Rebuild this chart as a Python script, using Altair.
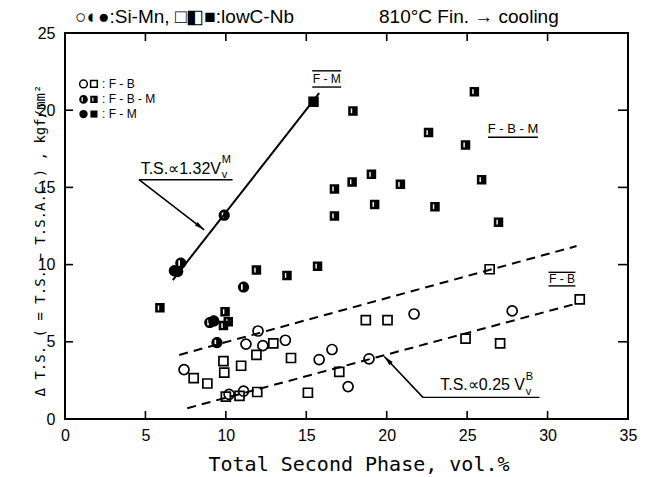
import math
import altair as alt
import pandas as pd

# ---------------- data ----------------
# F-B (open symbols)
fb_circle_x = [7.4, 12.0, 11.25, 12.3, 13.7, 15.8, 10.2, 11.1, 16.6, 17.6, 18.9, 21.7, 27.8]
fb_circle_y = [3.2, 5.7, 4.85, 4.75, 5.1, 3.85, 1.6, 1.8, 4.5, 2.1, 3.9, 6.8, 7.0]
fb_square_x = [8.0, 8.85, 9.85, 9.9, 10.95, 11.9, 12.95, 14.05, 10.0, 10.85, 11.95, 15.1,
               17.05, 18.7, 20.05, 24.9, 26.4, 32.0, 27.05]
fb_square_y = [2.65, 2.3, 3.75, 3.0, 3.45, 4.15, 4.9, 3.95, 1.45, 1.5, 1.75, 1.7,
               3.05, 6.4, 6.4, 5.2, 9.7, 7.75, 4.9]
# F-B-M (half filled symbols)
fbm_circle_x = [7.2, 9.9, 11.1, 9.0, 9.25, 9.45]
fbm_circle_y = [10.1, 13.2, 8.55, 6.25, 6.35, 4.95]
fbm_square_x = [5.9, 11.9, 13.8, 15.7, 9.95, 10.15, 9.85, 17.9, 22.6, 24.9, 25.45, 16.75,
                17.85, 19.05, 20.85, 19.25, 23.0, 25.9, 26.95, 16.75]
fbm_square_y = [7.2, 9.65, 9.3, 9.9, 6.95, 6.3, 6.05, 19.95, 18.55, 17.75, 21.2, 14.9,
                15.35, 15.85, 15.2, 13.9, 13.75, 15.5, 12.75, 13.15]
# F-M (filled symbols)
fm_circle_x = [6.8, 7.0]
fm_circle_y = [9.6, 9.55]
fm_square_x = [15.45]
fm_square_y = [20.55]

# fitted lines (end points)
solid_x1, solid_y1, solid_x2, solid_y2 = [6.7], [9.0], [15.8], [21.1]
dash_x1 = [7.1, 7.6]
dash_y1 = [4.15, 0.7]
dash_x2 = [31.8, 31.7]
dash_y2 = [11.2, 7.45]

# axis ticks
x_ticks = [0, 5, 10, 15, 20, 25, 30, 35]
y_ticks = [0, 5, 10, 15, 20, 25]
inner_x_ticks = [5, 10, 15, 20, 25, 30]
inner_y_ticks = [5, 10, 15, 20]

# legend entries
legend_labels = [": F - B", ": F - B - M", ": F - M"]

# ---------------- layout ----------------
W, H = 563, 386
FONT = "Liberation Sans"
MONO = "DejaVu Sans Mono"

xs = alt.Scale(domain=[0, 35], nice=False, zero=False)
ys = alt.Scale(domain=[0, 25], nice=False, zero=False)

x_axis = alt.Axis(values=x_ticks, ticks=False, domain=False, grid=False,
                  labelFont=FONT, labelFontSize=16, labelColor="black", labelPadding=8,
                  labelFlush=False, format="d",
                  title="Total  Second  Phase,  vol.%", titleFont=MONO, titleFontSize=20,
                  titleFontWeight="normal", titleColor="black", titlePadding=11,
                  titleX=W / 2 + 12)
y_axis = alt.Axis(values=y_ticks, ticks=False, domain=False, grid=False,
                  labelFont=FONT, labelFontSize=16, labelColor="black", labelPadding=10,
                  labelFlush=False, format="d",
                  title="Δ T.S. ( = T.S. − T.S.A.C.) ,  kgf/mm²", titleFont=MONO,
                  titleFontSize=14, titleFontWeight="normal", titleColor="black",
                  titleAngle=270, titleX=-25, titleY=H / 2 + 14, titleAlign="center",
                  titleBaseline="middle")


def X(field="x"):
    return alt.X(f"{field}:Q", scale=xs, axis=x_axis)


def Y(field="y"):
    return alt.Y(f"{field}:Q", scale=ys, axis=y_axis)


def df(**kw):
    return pd.DataFrame(kw)


CIRCLE_SLIT = ("M-1,0A1,1 0 1,1 1,0A1,1 0 1,1 -1,0Z "
               "M-0.45,-0.5L-0.45,0.5L-0.15,0.5L-0.15,-0.5Z")
SQUARE_SLIT = ("M-1,-1L1,-1L1,1L-1,1Z "
               "M-0.45,-0.5L-0.45,0.5L-0.15,0.5L-0.15,-0.5Z")
ARROW_HEAD = "M0,0L0.5,2.2L-0.5,2.2Z"

layers = []

# frame ticks (inward)
tx = df(t=inner_x_ticks)
ty = df(t=inner_y_ticks)
layers.append(alt.Chart(tx).mark_rule(color="black", strokeWidth=1.6).encode(
    x=X("t"), y=alt.value(H), y2=alt.value(H - 8)))
layers.append(alt.Chart(tx).mark_rule(color="black", strokeWidth=1.6).encode(
    x=X("t"), y=alt.value(0), y2=alt.value(8)))
layers.append(alt.Chart(ty).mark_rule(color="black", strokeWidth=1.6).encode(
    y=Y("t"), x=alt.value(0), x2=alt.value(8)))
layers.append(alt.Chart(ty).mark_rule(color="black", strokeWidth=1.6).encode(
    y=Y("t"), x=alt.value(W), x2=alt.value(W - 10)))

# fitted lines
layers.append(alt.Chart(df(x=solid_x1, y=solid_y1, x2=solid_x2, y2=solid_y2)).mark_rule(
    color="black", strokeWidth=2).encode(x=X(), y=Y(), x2="x2:Q", y2="y2:Q"))
layers.append(alt.Chart(df(x=dash_x1, y=dash_y1, x2=dash_x2, y2=dash_y2)).mark_rule(
    color="black", strokeWidth=2, strokeDash=[9, 6]).encode(x=X(), y=Y(), x2="x2:Q", y2="y2:Q"))

# data points
layers.append(alt.Chart(df(x=fb_circle_x, y=fb_circle_y)).mark_point(
    shape="circle", filled=False, stroke="black", strokeWidth=1.7, size=100, opacity=1
).encode(x=X(), y=Y()))
layers.append(alt.Chart(df(x=fb_square_x, y=fb_square_y)).mark_point(
    shape="square", filled=False, stroke="black", strokeWidth=1.7, size=81, opacity=1
).encode(x=X(), y=Y()))
layers.append(alt.Chart(df(x=fbm_circle_x, y=fbm_circle_y)).mark_point(
    shape=CIRCLE_SLIT, filled=True, fill="black", strokeWidth=0, size=125, opacity=1
).encode(x=X(), y=Y()))
layers.append(alt.Chart(df(x=fbm_square_x, y=fbm_square_y)).mark_point(
    shape=SQUARE_SLIT, filled=True, fill="black", strokeWidth=0, size=90, opacity=1
).encode(x=X(), y=Y()))
layers.append(alt.Chart(df(x=fm_circle_x, y=fm_circle_y)).mark_point(
    shape="circle", filled=True, fill="black", size=130, opacity=1
).encode(x=X(), y=Y()))
layers.append(alt.Chart(df(x=fm_square_x, y=fm_square_y)).mark_point(
    shape="square", filled=True, fill="black", size=110, opacity=1
).encode(x=X(), y=Y()))

# arrows
ax1, ay1 = [4.6, 22.25], [15.5, 1.4]
ax2, ay2 = [8.65, 19.85], [12.25, 4.05]
angles = []
for a, b, c, d in zip(ax1, ay1, ax2, ay2):
    dxp = (c - a) * W / 35
    dyp = -(d - b) * H / 25
    angles.append(math.degrees(math.atan2(dxp, -dyp)) % 360)
arr = df(x=ax1, y=ay1, x2=ax2, y2=ay2, ang=angles)
layers.append(alt.Chart(arr).mark_rule(color="black", strokeWidth=1.6).encode(
    x=X(), y=Y(), x2="x2:Q", y2="y2:Q"))
layers.append(alt.Chart(arr).mark_point(shape=ARROW_HEAD, filled=True, fill="black",
                                        size=81, opacity=1).encode(
    x=X("x2"), y=Y("y2"), angle=alt.Angle("ang:Q", scale=None)))

# underlines / overlines of labels
ul = df(x=[4.6, 22.25, 15.37, 15.37, 26.3, 30.06, 30.06],
        x2=[10.42, 29.5, 17.17, 17.17, 29.4, 31.73, 31.73],
        y=[15.5, 1.4, 22.55, 21.5, 18.25, 9.5, 8.62])
layers.append(alt.Chart(ul).mark_rule(color="black", strokeWidth=1.4).encode(
    x=X(), x2="x2:Q", y=Y()))


# annotation texts
def txt(x, y, t, size, align="center", baseline="middle", font=FONT):
    return alt.Chart(df(x=[x], y=[y], t=[t])).mark_text(
        font=font, fontSize=size, align=align, baseline=baseline, color="black"
    ).encode(x=X(), y=Y(), text="t:N")


layers.append(txt(9.7, 16.2, "T.S.∝1.32V", 16, align="right"))
layers.append(txt(9.75, 16.8, "M", 11, align="left"))
layers.append(txt(9.75, 15.8, "v", 11, align="left"))
layers.append(txt(28.6, 2.2, "T.S.∝0.25 V", 16, align="right"))
layers.append(txt(28.65, 2.7, "B", 11, align="left"))
layers.append(txt(28.65, 1.75, "v", 11, align="left"))
layers.append(txt(16.27, 22.02, "F - M", 12))
layers.append(txt(27.85, 18.8, "F - B - M", 13))
layers.append(txt(30.9, 9.06, "F - B", 12))

# legend inside plot
leg_y = [21.7, 20.7, 19.75]
leg = df(y=leg_y, t=legend_labels)
layers.append(alt.Chart(df(x=[1.15], y=[leg_y[0]])).mark_point(
    shape="circle", filled=False, stroke="black", strokeWidth=1.5, size=60, opacity=1
).encode(x=X(), y=Y()))
layers.append(alt.Chart(df(x=[1.8], y=[leg_y[0]])).mark_point(
    shape="square", filled=False, stroke="black", strokeWidth=1.5, size=45, opacity=1
).encode(x=X(), y=Y()))
layers.append(alt.Chart(df(x=[1.15], y=[leg_y[1]])).mark_point(
    shape=CIRCLE_SLIT, filled=True, fill="black", strokeWidth=0, size=75, opacity=1
).encode(x=X(), y=Y()))
layers.append(alt.Chart(df(x=[1.8], y=[leg_y[1]])).mark_point(
    shape=SQUARE_SLIT, filled=True, fill="black", strokeWidth=0, size=55, opacity=1
).encode(x=X(), y=Y()))
layers.append(alt.Chart(df(x=[1.15], y=[leg_y[2]])).mark_point(
    shape="circle", filled=True, fill="black", size=70, opacity=1
).encode(x=X(), y=Y()))
layers.append(alt.Chart(df(x=[1.8], y=[leg_y[2]])).mark_point(
    shape="square", filled=True, fill="black", size=50, opacity=1
).encode(x=X(), y=Y()))
layers.append(alt.Chart(leg).mark_text(font=FONT, fontSize=12, align="left",
                                       baseline="middle", color="black").encode(
    x=alt.value(2.3 * W / 35), y=Y(), text="t:N"))

# header texts above the frame
layers.append(alt.Chart(df(t=["○◐●:Si-Mn, □◧■:lowC-Nb"])).mark_text(
    font=FONT, fontSize=19, align="left", baseline="middle", color="black").encode(
    x=alt.value(10), y=alt.value(-16), text="t:N"))
layers.append(alt.Chart(df(t=["810°C Fin. → cooling"])).mark_text(
    font=FONT, fontSize=19, align="left", baseline="middle", color="black").encode(
    x=alt.value(314), y=alt.value(-16), text="t:N"))

chart = alt.layer(*layers).properties(
    width=W, height=H, autosize="none",
    padding={"left": 65, "top": 33, "right": 21, "bottom": 58},
    background="white",
).configure_view(stroke="black", strokeWidth=2)

chart.save("out.html", embed_options={"renderer": "svg", "actions": False})
